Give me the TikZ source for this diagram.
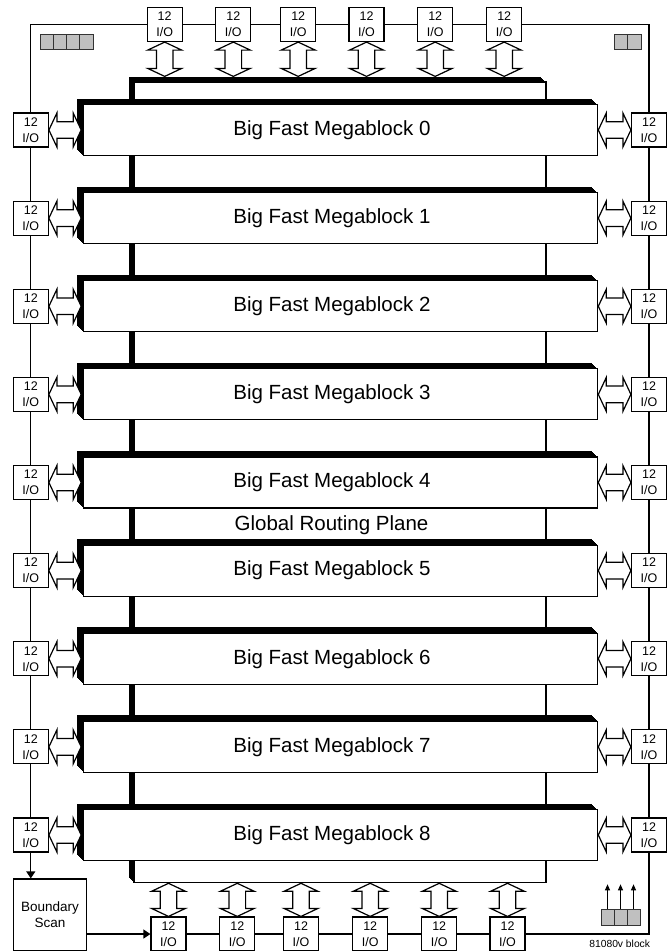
\documentclass[tikz,border=0pt]{standalone}
\usepackage{fontspec}
\setmainfont{Liberation Sans}
\usetikzlibrary{shadows,arrows.meta,calc}
\definecolor{sqgray}{RGB}{192,192,192}
\def\arrHW{17pt}
\def\arrSW{8.3pt}
\def\arrHL{8pt}
% horizontal hollow double arrow from #1 (left) to #2 (right), at the height of #1
\newcommand\harr[2]{\draw[hollow] let \p1=(#1), \p2=(#2) in
  (\x1,\y1) -- (\x1+\arrHL,\y1+\arrHW) -- (\x1+\arrHL,\y1+\arrSW) -- (\x2-\arrHL,\y1+\arrSW)
  -- (\x2-\arrHL,\y1+\arrHW) -- (\x2,\y1) -- (\x2-\arrHL,\y1-\arrHW) -- (\x2-\arrHL,\y1-\arrSW)
  -- (\x1+\arrHL,\y1-\arrSW) -- (\x1+\arrHL,\y1-\arrHW) -- cycle;}
% vertical hollow double arrow from #1 (lower) to #2 (upper), at the x of #1
\newcommand\varr[2]{\draw[hollow] let \p1=(#1), \p2=(#2) in
  (\x1,\y1) -- (\x1+\arrHW,\y1+\arrHL) -- (\x1+\arrSW,\y1+\arrHL) -- (\x1+\arrSW,\y2-\arrHL)
  -- (\x1+\arrHW,\y2-\arrHL) -- (\x1,\y2) -- (\x1-\arrHW,\y2-\arrHL) -- (\x1-\arrSW,\y2-\arrHL)
  -- (\x1-\arrSW,\y1+\arrHL) -- (\x1-\arrHW,\y1+\arrHL) -- cycle;}
\tikzset{
  ext/.style={general shadow={fill=black,shadow xshift=-#1pt,shadow yshift=#1pt}},
  extfive/.style={ext=1,ext=2,ext=3,ext=4,ext=5},
  extsix/.style={ext=1,ext=2,ext=3,ext=4,ext=5,ext=6},
  hollow/.style={draw=black,fill=white,line width=1.2pt,line join=miter},
  wire/.style={line width=1.2pt},
  io/.style={draw,line width=1.2pt,fill=white,minimum width=35pt,minimum height=34pt,
    inner sep=0pt,align=center,font=\fontsize{12.5}{16}\selectfont},
  plane/.style={draw,line width=1.2pt,fill=white,minimum width=412pt,minimum height=800.7pt,
    inner sep=0pt,extfive},
  block/.style={draw,line width=1.2pt,fill=white,minimum width=514.4pt,minimum height=51pt,
    inner sep=0pt,extsix},
  lbl/.style={font=\fontsize{20.5}{24}\selectfont,inner sep=0pt},
  sq/.style={draw=black!80,line width=0.8pt,fill=sqgray,inner sep=0pt},
  bsbox/.style={draw,line width=1.2pt,fill=white,minimum width=73.4pt,minimum height=71.5pt,
    inner sep=0pt,align=center,font=\fontsize{13.5}{16}\selectfont},
  tipA/.style={-{Triangle[length=7pt,width=9pt]}},
  tipB/.style={-{Triangle[length=6pt,width=5pt]},line width=1pt}
}
\begin{document}
\begin{tikzpicture}[x=1pt,y=-1pt]
\useasboundingbox (0,0) rectangle (670,951);
% routing plane and megablocks
\node[plane] (plane) at (340,482.35) {};
\foreach \k in {0,...,8}
  \node[block,label={[lbl,xshift=-8.6pt]center:Big Fast Megablock \k}] (b\k) at (340.5,130+88.125*\k) {};
\node[lbl] (grp) at (331.5,525) {Global Routing Plane};
% side I/O
\foreach \k in {0,...,8} {
  \node[io] (L\k) at (30.8,130+88.125*\k) {12\\I/O};
  \node[io] (R\k) at (649,130+88.125*\k) {12\\I/O};
}
\foreach \x [count=\i] in {164.7,233.3,298.2,366.5,435.2,504.2}
  \node[io] (T\i) at (\x,24.5) {12\\I/O};
\foreach \x [count=\i] in {168.5,237.3,301,370.2,439.2,507.5}
  \node[io] (B\i) at (\x,934) {12\\I/O};
\node[bsbox] (bscan) at (50,914.75) {Boundary\\Scan};
% border wiring
\coordinate (TL) at (L0.center |- T1.center);
\coordinate (TR) at (R0.center |- T6.center);
\coordinate (BR) at (R8.center |- B6.center);
\draw[wire] (L0.north) -- (TL) -- (T1.west);
\foreach \i/\j in {1/2,2/3,3/4,4/5,5/6} {
  \draw[wire] (T\i.east) -- (T\j.west);
  \draw[wire] (B\i.east) -- (B\j.west);
}
\draw[wire] (T6.east) -- (TR) -- (R0.north);
\foreach \i/\j in {0/1,1/2,2/3,3/4,4/5,5/6,6/7,7/8} {
  \draw[wire] (L\i.south) -- (L\j.north);
  \draw[wire] (R\i.south) -- (R\j.north);
}
\draw[wire] (R8.south) -- (BR) -- (B6.east);
\draw[wire,tipA] (L8.south) -- (L8.south |- bscan.north);
\draw[wire,tipA] (bscan.east |- B1.west) -- (B1.west);
% hollow double arrows
\foreach \k in {0,...,8} {
  \harr{L\k.east}{$(b\k.west)+(-1.5,0)$}
  \harr{b\k.east}{R\k.west}
}
\foreach \i in {1,...,6} {
  \varr{$(T\i.south |- plane.north)+(0,-5)$}{T\i.south}
  \varr{B\i.north}{B\i.north |- plane.south}
}
% grey squares
\foreach \x [count=\i] in {46.6,59.9,73.1,86.4}
  \node[sq,minimum width=13.25pt,minimum height=15pt] (gl\i) at (\x,41.5) {};
\foreach \x [count=\i] in {620.75,634.25}
  \node[sq,minimum width=13.5pt,minimum height=15pt] (gr\i) at (\x,41.7) {};
\foreach \x [count=\i] in {607.5,620.5,633.5} {
  \node[sq,minimum width=13pt,minimum height=16pt] (gb\i) at (\x,917.3) {};
  \coordinate (up\i) at (\x,884.3);
  \draw[tipB] (gb\i.north) -- (up\i);
}
\node[font=\fontsize{10.3}{12}\selectfont,inner sep=0pt] (tag) at (619.7,944) {81080v block};
\end{tikzpicture}
\end{document}
